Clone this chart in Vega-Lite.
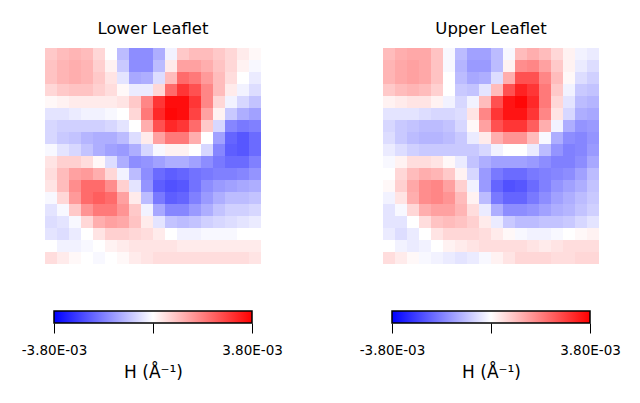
{
"$schema":"https://vega.github.io/schema/vega-lite/v6.json",
"padding":{"left":21,"top":20,"right":5,"bottom":5},
"background":"white",
"config":{"view":{"stroke":null},"font":"DejaVu Sans","title":{"font":"DejaVu Sans","fontSize":16.5,"fontWeight":"normal","color":"black","offset":11}},
"datasets":{
"bar":[{"lo":-38,"hi":38}],
"lower":[
{"x":0,"y":0,"v":8},{"x":1,"y":0,"v":10},{"x":2,"y":0,"v":11},{"x":3,"y":0,"v":10},{"x":4,"y":0,"v":6},{"x":5,"y":0,"v":0},{"x":6,"y":0,"v":-10},{"x":7,"y":0,"v":-17},{"x":8,"y":0,"v":-17},{"x":9,"y":0,"v":-12},{"x":10,"y":0,"v":-2},{"x":11,"y":0,"v":8},{"x":12,"y":0,"v":10},{"x":13,"y":0,"v":10},{"x":14,"y":0,"v":8},{"x":15,"y":0,"v":6},{"x":16,"y":0,"v":3},{"x":17,"y":0,"v":1},
{"x":0,"y":1,"v":9},{"x":1,"y":1,"v":11},{"x":2,"y":1,"v":12},{"x":3,"y":1,"v":11},{"x":4,"y":1,"v":7},{"x":5,"y":1,"v":2},{"x":6,"y":1,"v":-8},{"x":7,"y":1,"v":-17},{"x":8,"y":1,"v":-17},{"x":9,"y":1,"v":-10},{"x":10,"y":1,"v":3},{"x":11,"y":1,"v":14},{"x":12,"y":1,"v":14},{"x":13,"y":1,"v":12},{"x":14,"y":1,"v":9},{"x":15,"y":1,"v":6},{"x":16,"y":1,"v":2},{"x":17,"y":1,"v":-1},
{"x":0,"y":2,"v":9},{"x":1,"y":2,"v":11},{"x":2,"y":2,"v":12},{"x":3,"y":2,"v":11},{"x":4,"y":2,"v":8},{"x":5,"y":2,"v":4},{"x":6,"y":2,"v":-4},{"x":7,"y":2,"v":-13},{"x":8,"y":2,"v":-12},{"x":9,"y":2,"v":-5},{"x":10,"y":2,"v":10},{"x":11,"y":2,"v":22},{"x":12,"y":2,"v":20},{"x":13,"y":2,"v":15},{"x":14,"y":2,"v":10},{"x":15,"y":2,"v":5},{"x":16,"y":2,"v":0},{"x":17,"y":2,"v":-3},
{"x":0,"y":3,"v":6},{"x":1,"y":3,"v":8},{"x":2,"y":3,"v":9},{"x":3,"y":3,"v":9},{"x":4,"y":3,"v":7},{"x":5,"y":3,"v":5},{"x":6,"y":3,"v":1},{"x":7,"y":3,"v":-3},{"x":8,"y":3,"v":-3},{"x":9,"y":3,"v":6},{"x":10,"y":3,"v":22},{"x":11,"y":3,"v":30},{"x":12,"y":3,"v":26},{"x":13,"y":3,"v":18},{"x":14,"y":3,"v":10},{"x":15,"y":3,"v":3},{"x":16,"y":3,"v":-2},{"x":17,"y":3,"v":-5},
{"x":0,"y":4,"v":1},{"x":1,"y":4,"v":2},{"x":2,"y":4,"v":3},{"x":3,"y":4,"v":3},{"x":4,"y":4,"v":3},{"x":5,"y":4,"v":3},{"x":6,"y":4,"v":4},{"x":7,"y":4,"v":8},{"x":8,"y":4,"v":18},{"x":9,"y":4,"v":30},{"x":10,"y":4,"v":36},{"x":11,"y":4,"v":36},{"x":12,"y":4,"v":30},{"x":13,"y":4,"v":18},{"x":14,"y":4,"v":6},{"x":15,"y":4,"v":-2},{"x":16,"y":4,"v":-6},{"x":17,"y":4,"v":-9},
{"x":0,"y":5,"v":-4},{"x":1,"y":5,"v":-4},{"x":2,"y":5,"v":-3},{"x":3,"y":5,"v":-2},{"x":4,"y":5,"v":-2},{"x":5,"y":5,"v":-1},{"x":6,"y":5,"v":0},{"x":7,"y":5,"v":6},{"x":8,"y":5,"v":20},{"x":9,"y":5,"v":32},{"x":10,"y":5,"v":37},{"x":11,"y":5,"v":36},{"x":12,"y":5,"v":28},{"x":13,"y":5,"v":14},{"x":14,"y":5,"v":2},{"x":15,"y":5,"v":-8},{"x":16,"y":5,"v":-12},{"x":17,"y":5,"v":-14},
{"x":0,"y":6,"v":-6},{"x":1,"y":6,"v":-7},{"x":2,"y":6,"v":-7},{"x":3,"y":6,"v":-7},{"x":4,"y":6,"v":-7},{"x":5,"y":6,"v":-6},{"x":6,"y":6,"v":-4},{"x":7,"y":6,"v":0},{"x":8,"y":6,"v":12},{"x":9,"y":6,"v":26},{"x":10,"y":6,"v":32},{"x":11,"y":6,"v":30},{"x":12,"y":6,"v":22},{"x":13,"y":6,"v":8},{"x":14,"y":6,"v":-6},{"x":15,"y":6,"v":-18},{"x":16,"y":6,"v":-20},{"x":17,"y":6,"v":-19},
{"x":0,"y":7,"v":-6},{"x":1,"y":7,"v":-8},{"x":2,"y":7,"v":-9},{"x":3,"y":7,"v":-11},{"x":4,"y":7,"v":-12},{"x":5,"y":7,"v":-12},{"x":6,"y":7,"v":-10},{"x":7,"y":7,"v":-5},{"x":8,"y":7,"v":3},{"x":9,"y":7,"v":14},{"x":10,"y":7,"v":20},{"x":11,"y":7,"v":20},{"x":12,"y":7,"v":12},{"x":13,"y":7,"v":0},{"x":14,"y":7,"v":-14},{"x":15,"y":7,"v":-23},{"x":16,"y":7,"v":-25},{"x":17,"y":7,"v":-22},
{"x":0,"y":8,"v":-1},{"x":1,"y":8,"v":-4},{"x":2,"y":8,"v":-6},{"x":3,"y":8,"v":-9},{"x":4,"y":8,"v":-12},{"x":5,"y":8,"v":-14},{"x":6,"y":8,"v":-15},{"x":7,"y":8,"v":-12},{"x":8,"y":8,"v":-6},{"x":9,"y":8,"v":-1},{"x":10,"y":8,"v":2},{"x":11,"y":8,"v":2},{"x":12,"y":8,"v":0},{"x":13,"y":8,"v":-6},{"x":14,"y":8,"v":-18},{"x":15,"y":8,"v":-24},{"x":16,"y":8,"v":-25},{"x":17,"y":8,"v":-22},
{"x":0,"y":9,"v":4},{"x":1,"y":9,"v":7},{"x":2,"y":9,"v":7},{"x":3,"y":9,"v":5},{"x":4,"y":9,"v":1},{"x":5,"y":9,"v":-5},{"x":6,"y":9,"v":-12},{"x":7,"y":9,"v":-17},{"x":8,"y":9,"v":-16},{"x":9,"y":9,"v":-14},{"x":10,"y":9,"v":-12},{"x":11,"y":9,"v":-12},{"x":12,"y":9,"v":-14},{"x":13,"y":9,"v":-17},{"x":14,"y":9,"v":-20},{"x":15,"y":9,"v":-22},{"x":16,"y":9,"v":-22},{"x":17,"y":9,"v":-19},
{"x":0,"y":10,"v":5},{"x":1,"y":10,"v":10},{"x":2,"y":10,"v":14},{"x":3,"y":10,"v":15},{"x":4,"y":10,"v":12},{"x":5,"y":10,"v":6},{"x":6,"y":10,"v":-2},{"x":7,"y":10,"v":-10},{"x":8,"y":10,"v":-17},{"x":9,"y":10,"v":-22},{"x":10,"y":10,"v":-24},{"x":11,"y":10,"v":-23},{"x":12,"y":10,"v":-21},{"x":13,"y":10,"v":-20},{"x":14,"y":10,"v":-19},{"x":15,"y":10,"v":-19},{"x":16,"y":10,"v":-18},{"x":17,"y":10,"v":-16},
{"x":0,"y":11,"v":4},{"x":1,"y":11,"v":10},{"x":2,"y":11,"v":17},{"x":3,"y":11,"v":22},{"x":4,"y":11,"v":22},{"x":5,"y":11,"v":17},{"x":6,"y":11,"v":7},{"x":7,"y":11,"v":-4},{"x":8,"y":11,"v":-16},{"x":9,"y":11,"v":-24},{"x":10,"y":11,"v":-26},{"x":11,"y":11,"v":-25},{"x":12,"y":11,"v":-21},{"x":13,"y":11,"v":-17},{"x":14,"y":11,"v":-15},{"x":15,"y":11,"v":-14},{"x":16,"y":11,"v":-13},{"x":17,"y":11,"v":-12},
{"x":0,"y":12,"v":-1},{"x":1,"y":12,"v":6},{"x":2,"y":12,"v":15},{"x":3,"y":12,"v":22},{"x":4,"y":12,"v":24},{"x":5,"y":12,"v":22},{"x":6,"y":12,"v":14},{"x":7,"y":12,"v":3},{"x":8,"y":12,"v":-10},{"x":9,"y":12,"v":-20},{"x":10,"y":12,"v":-24},{"x":11,"y":12,"v":-23},{"x":12,"y":12,"v":-19},{"x":13,"y":12,"v":-15},{"x":14,"y":12,"v":-12},{"x":15,"y":12,"v":-10},{"x":16,"y":12,"v":-10},{"x":17,"y":12,"v":-9},
{"x":0,"y":13,"v":-4},{"x":1,"y":13,"v":-1},{"x":2,"y":13,"v":8},{"x":3,"y":13,"v":16},{"x":4,"y":13,"v":20},{"x":5,"y":13,"v":20},{"x":6,"y":13,"v":16},{"x":7,"y":13,"v":8},{"x":8,"y":13,"v":-2},{"x":9,"y":13,"v":-13},{"x":10,"y":13,"v":-18},{"x":11,"y":13,"v":-18},{"x":12,"y":13,"v":-15},{"x":13,"y":13,"v":-12},{"x":14,"y":13,"v":-9},{"x":15,"y":13,"v":-7},{"x":16,"y":13,"v":-7},{"x":17,"y":13,"v":-6},
{"x":0,"y":14,"v":-5},{"x":1,"y":14,"v":-4},{"x":2,"y":14,"v":-1},{"x":3,"y":14,"v":6},{"x":4,"y":14,"v":12},{"x":5,"y":14,"v":14},{"x":6,"y":14,"v":13},{"x":7,"y":14,"v":9},{"x":8,"y":14,"v":3},{"x":9,"y":14,"v":-4},{"x":10,"y":14,"v":-9},{"x":11,"y":14,"v":-10},{"x":12,"y":14,"v":-9},{"x":13,"y":14,"v":-7},{"x":14,"y":14,"v":-6},{"x":15,"y":14,"v":-5},{"x":16,"y":14,"v":-4},{"x":17,"y":14,"v":-3},
{"x":0,"y":15,"v":-4},{"x":1,"y":15,"v":-5},{"x":2,"y":15,"v":-3},{"x":3,"y":15,"v":0},{"x":4,"y":15,"v":4},{"x":5,"y":15,"v":7},{"x":6,"y":15,"v":7},{"x":7,"y":15,"v":6},{"x":8,"y":15,"v":5},{"x":9,"y":15,"v":3},{"x":10,"y":15,"v":0},{"x":11,"y":15,"v":-2},{"x":12,"y":15,"v":-2},{"x":13,"y":15,"v":-1},{"x":14,"y":15,"v":-1},{"x":15,"y":15,"v":-1},{"x":16,"y":15,"v":0},{"x":17,"y":15,"v":0},
{"x":0,"y":16,"v":0},{"x":1,"y":16,"v":-2},{"x":2,"y":16,"v":-2},{"x":3,"y":16,"v":-1},{"x":4,"y":16,"v":0},{"x":5,"y":16,"v":2},{"x":6,"y":16,"v":3},{"x":7,"y":16,"v":4},{"x":8,"y":16,"v":4},{"x":9,"y":16,"v":4},{"x":10,"y":16,"v":4},{"x":11,"y":16,"v":3},{"x":12,"y":16,"v":3},{"x":13,"y":16,"v":3},{"x":14,"y":16,"v":3},{"x":15,"y":16,"v":3},{"x":16,"y":16,"v":3},{"x":17,"y":16,"v":3},
{"x":0,"y":17,"v":5},{"x":1,"y":17,"v":3},{"x":2,"y":17,"v":1},{"x":3,"y":17,"v":0},{"x":4,"y":17,"v":-1},{"x":5,"y":17,"v":0},{"x":6,"y":17,"v":1},{"x":7,"y":17,"v":3},{"x":8,"y":17,"v":4},{"x":9,"y":17,"v":5},{"x":10,"y":17,"v":5},{"x":11,"y":17,"v":5},{"x":12,"y":17,"v":5},{"x":13,"y":17,"v":5},{"x":14,"y":17,"v":5},{"x":15,"y":17,"v":5},{"x":16,"y":17,"v":5},{"x":17,"y":17,"v":4}
],
"upper":[
{"x":0,"y":0,"v":10},{"x":1,"y":0,"v":12},{"x":2,"y":0,"v":13},{"x":3,"y":0,"v":13},{"x":4,"y":0,"v":9},{"x":5,"y":0,"v":-1},{"x":6,"y":0,"v":-10},{"x":7,"y":0,"v":-14},{"x":8,"y":0,"v":-14},{"x":9,"y":0,"v":-10},{"x":10,"y":0,"v":-1},{"x":11,"y":0,"v":10},{"x":12,"y":0,"v":12},{"x":13,"y":0,"v":10},{"x":14,"y":0,"v":6},{"x":15,"y":0,"v":2},{"x":16,"y":0,"v":-2},{"x":17,"y":0,"v":-3},
{"x":0,"y":1,"v":11},{"x":1,"y":1,"v":13},{"x":2,"y":1,"v":14},{"x":3,"y":1,"v":13},{"x":4,"y":1,"v":9},{"x":5,"y":1,"v":-1},{"x":6,"y":1,"v":-11},{"x":7,"y":1,"v":-15},{"x":8,"y":1,"v":-15},{"x":9,"y":1,"v":-10},{"x":10,"y":1,"v":2},{"x":11,"y":1,"v":17},{"x":12,"y":1,"v":18},{"x":13,"y":1,"v":14},{"x":14,"y":1,"v":8},{"x":15,"y":1,"v":2},{"x":16,"y":1,"v":-3},{"x":17,"y":1,"v":-5},
{"x":0,"y":2,"v":11},{"x":1,"y":2,"v":13},{"x":2,"y":2,"v":14},{"x":3,"y":2,"v":13},{"x":4,"y":2,"v":9},{"x":5,"y":2,"v":0},{"x":6,"y":2,"v":-10},{"x":7,"y":2,"v":-13},{"x":8,"y":2,"v":-12},{"x":9,"y":2,"v":-5},{"x":10,"y":2,"v":12},{"x":11,"y":2,"v":26},{"x":12,"y":2,"v":26},{"x":13,"y":2,"v":18},{"x":14,"y":2,"v":10},{"x":15,"y":2,"v":1},{"x":16,"y":2,"v":-5},{"x":17,"y":2,"v":-7},
{"x":0,"y":3,"v":8},{"x":1,"y":3,"v":10},{"x":2,"y":3,"v":11},{"x":3,"y":3,"v":10},{"x":4,"y":3,"v":7},{"x":5,"y":3,"v":0},{"x":6,"y":3,"v":-8},{"x":7,"y":3,"v":-9},{"x":8,"y":3,"v":-4},{"x":9,"y":3,"v":10},{"x":10,"y":3,"v":26},{"x":11,"y":3,"v":33},{"x":12,"y":3,"v":30},{"x":13,"y":3,"v":20},{"x":14,"y":3,"v":8},{"x":15,"y":3,"v":-2},{"x":16,"y":3,"v":-8},{"x":17,"y":3,"v":-9},
{"x":0,"y":4,"v":2},{"x":1,"y":4,"v":3},{"x":2,"y":4,"v":4},{"x":3,"y":4,"v":4},{"x":4,"y":4,"v":2},{"x":5,"y":4,"v":-2},{"x":6,"y":4,"v":-6},{"x":7,"y":4,"v":-2},{"x":8,"y":4,"v":10},{"x":9,"y":4,"v":26},{"x":10,"y":4,"v":35},{"x":11,"y":4,"v":37},{"x":12,"y":4,"v":32},{"x":13,"y":4,"v":20},{"x":14,"y":4,"v":6},{"x":15,"y":4,"v":-4},{"x":16,"y":4,"v":-10},{"x":17,"y":4,"v":-11},
{"x":0,"y":5,"v":-4},{"x":1,"y":5,"v":-4},{"x":2,"y":5,"v":-4},{"x":3,"y":5,"v":-5},{"x":4,"y":5,"v":-6},{"x":5,"y":5,"v":-6},{"x":6,"y":5,"v":-5},{"x":7,"y":5,"v":4},{"x":8,"y":5,"v":18},{"x":9,"y":5,"v":30},{"x":10,"y":5,"v":35},{"x":11,"y":5,"v":35},{"x":12,"y":5,"v":30},{"x":13,"y":5,"v":18},{"x":14,"y":5,"v":4},{"x":15,"y":5,"v":-6},{"x":16,"y":5,"v":-12},{"x":17,"y":5,"v":-13},
{"x":0,"y":6,"v":-6},{"x":1,"y":6,"v":-8},{"x":2,"y":6,"v":-9},{"x":3,"y":6,"v":-10},{"x":4,"y":6,"v":-10},{"x":5,"y":6,"v":-9},{"x":6,"y":6,"v":-6},{"x":7,"y":6,"v":1},{"x":8,"y":6,"v":14},{"x":9,"y":6,"v":26},{"x":10,"y":6,"v":30},{"x":11,"y":6,"v":30},{"x":12,"y":6,"v":24},{"x":13,"y":6,"v":12},{"x":14,"y":6,"v":-2},{"x":15,"y":6,"v":-12},{"x":16,"y":6,"v":-16},{"x":17,"y":6,"v":-15},
{"x":0,"y":7,"v":-5},{"x":1,"y":7,"v":-8},{"x":2,"y":7,"v":-10},{"x":3,"y":7,"v":-11},{"x":4,"y":7,"v":-11},{"x":5,"y":7,"v":-10},{"x":6,"y":7,"v":-8},{"x":7,"y":7,"v":-3},{"x":8,"y":7,"v":3},{"x":9,"y":7,"v":12},{"x":10,"y":7,"v":16},{"x":11,"y":7,"v":16},{"x":12,"y":7,"v":10},{"x":13,"y":7,"v":-1},{"x":14,"y":7,"v":-12},{"x":15,"y":7,"v":-17},{"x":16,"y":7,"v":-18},{"x":17,"y":7,"v":-16},
{"x":0,"y":8,"v":-3},{"x":1,"y":8,"v":-5},{"x":2,"y":8,"v":-7},{"x":3,"y":8,"v":-8},{"x":4,"y":8,"v":-8},{"x":5,"y":8,"v":-8},{"x":6,"y":8,"v":-8},{"x":7,"y":8,"v":-8},{"x":8,"y":8,"v":-6},{"x":9,"y":8,"v":-2},{"x":10,"y":8,"v":0},{"x":11,"y":8,"v":0},{"x":12,"y":8,"v":-3},{"x":13,"y":8,"v":-10},{"x":14,"y":8,"v":-16},{"x":15,"y":8,"v":-19},{"x":16,"y":8,"v":-18},{"x":17,"y":8,"v":-15},
{"x":0,"y":9,"v":-1},{"x":1,"y":9,"v":2},{"x":2,"y":9,"v":5},{"x":3,"y":9,"v":5},{"x":4,"y":9,"v":4},{"x":5,"y":9,"v":1},{"x":6,"y":9,"v":-3},{"x":7,"y":9,"v":-9},{"x":8,"y":9,"v":-12},{"x":9,"y":9,"v":-14},{"x":10,"y":9,"v":-14},{"x":11,"y":9,"v":-14},{"x":12,"y":9,"v":-15},{"x":13,"y":9,"v":-17},{"x":14,"y":9,"v":-19},{"x":15,"y":9,"v":-19},{"x":16,"y":9,"v":-17},{"x":17,"y":9,"v":-13},
{"x":0,"y":10,"v":0},{"x":1,"y":10,"v":6},{"x":2,"y":10,"v":10},{"x":3,"y":10,"v":12},{"x":4,"y":10,"v":11},{"x":5,"y":10,"v":8},{"x":6,"y":10,"v":2},{"x":7,"y":10,"v":-6},{"x":8,"y":10,"v":-15},{"x":9,"y":10,"v":-20},{"x":10,"y":10,"v":-22},{"x":11,"y":10,"v":-22},{"x":12,"y":10,"v":-20},{"x":13,"y":10,"v":-19},{"x":14,"y":10,"v":-18},{"x":15,"y":10,"v":-17},{"x":16,"y":10,"v":-14},{"x":17,"y":10,"v":-10},
{"x":0,"y":11,"v":1},{"x":1,"y":11,"v":7},{"x":2,"y":11,"v":13},{"x":3,"y":11,"v":17},{"x":4,"y":11,"v":18},{"x":5,"y":11,"v":14},{"x":6,"y":11,"v":7},{"x":7,"y":11,"v":-2},{"x":8,"y":11,"v":-15},{"x":9,"y":11,"v":-23},{"x":10,"y":11,"v":-26},{"x":11,"y":11,"v":-25},{"x":12,"y":11,"v":-22},{"x":13,"y":11,"v":-19},{"x":14,"y":11,"v":-16},{"x":15,"y":11,"v":-14},{"x":16,"y":11,"v":-12},{"x":17,"y":11,"v":-9},
{"x":0,"y":12,"v":-2},{"x":1,"y":12,"v":4},{"x":2,"y":12,"v":12},{"x":3,"y":12,"v":17},{"x":4,"y":12,"v":18},{"x":5,"y":12,"v":16},{"x":6,"y":12,"v":10},{"x":7,"y":12,"v":2},{"x":8,"y":12,"v":-10},{"x":9,"y":12,"v":-20},{"x":10,"y":12,"v":-23},{"x":11,"y":12,"v":-23},{"x":12,"y":12,"v":-20},{"x":13,"y":12,"v":-17},{"x":14,"y":12,"v":-14},{"x":15,"y":12,"v":-12},{"x":16,"y":12,"v":-10},{"x":17,"y":12,"v":-8},
{"x":0,"y":13,"v":-4},{"x":1,"y":13,"v":-1},{"x":2,"y":13,"v":6},{"x":3,"y":13,"v":12},{"x":4,"y":13,"v":14},{"x":5,"y":13,"v":14},{"x":6,"y":13,"v":11},{"x":7,"y":13,"v":5},{"x":8,"y":13,"v":-3},{"x":9,"y":13,"v":-12},{"x":10,"y":13,"v":-17},{"x":11,"y":13,"v":-17},{"x":12,"y":13,"v":-16},{"x":13,"y":13,"v":-14},{"x":14,"y":13,"v":-12},{"x":15,"y":13,"v":-11},{"x":16,"y":13,"v":-9},{"x":17,"y":13,"v":-7},
{"x":0,"y":14,"v":-4},{"x":1,"y":14,"v":-4},{"x":2,"y":14,"v":0},{"x":3,"y":14,"v":5},{"x":4,"y":14,"v":9},{"x":5,"y":14,"v":10},{"x":6,"y":14,"v":9},{"x":7,"y":14,"v":7},{"x":8,"y":14,"v":3},{"x":9,"y":14,"v":-3},{"x":10,"y":14,"v":-8},{"x":11,"y":14,"v":-10},{"x":12,"y":14,"v":-10},{"x":13,"y":14,"v":-9},{"x":14,"y":14,"v":-9},{"x":15,"y":14,"v":-8},{"x":16,"y":14,"v":-6},{"x":17,"y":14,"v":-4},
{"x":0,"y":15,"v":-3},{"x":1,"y":15,"v":-5},{"x":2,"y":15,"v":-3},{"x":3,"y":15,"v":0},{"x":4,"y":15,"v":4},{"x":5,"y":15,"v":6},{"x":6,"y":15,"v":6},{"x":7,"y":15,"v":6},{"x":8,"y":15,"v":5},{"x":9,"y":15,"v":3},{"x":10,"y":15,"v":1},{"x":11,"y":15,"v":-1},{"x":12,"y":15,"v":-2},{"x":13,"y":15,"v":-2},{"x":14,"y":15,"v":-1},{"x":15,"y":15,"v":0},{"x":16,"y":15,"v":1},{"x":17,"y":15,"v":2},
{"x":0,"y":16,"v":0},{"x":1,"y":16,"v":-2},{"x":2,"y":16,"v":-3},{"x":3,"y":16,"v":-2},{"x":4,"y":16,"v":0},{"x":5,"y":16,"v":2},{"x":6,"y":16,"v":3},{"x":7,"y":16,"v":4},{"x":8,"y":16,"v":5},{"x":9,"y":16,"v":5},{"x":10,"y":16,"v":5},{"x":11,"y":16,"v":5},{"x":12,"y":16,"v":4},{"x":13,"y":16,"v":3},{"x":14,"y":16,"v":4},{"x":15,"y":16,"v":5},{"x":16,"y":16,"v":5},{"x":17,"y":16,"v":5},
{"x":0,"y":17,"v":5},{"x":1,"y":17,"v":3},{"x":2,"y":17,"v":1},{"x":3,"y":17,"v":-1},{"x":4,"y":17,"v":-2},{"x":5,"y":17,"v":-3},{"x":6,"y":17,"v":-4},{"x":7,"y":17,"v":-3},{"x":8,"y":17,"v":-1},{"x":9,"y":17,"v":2},{"x":10,"y":17,"v":4},{"x":11,"y":17,"v":6},{"x":12,"y":17,"v":6},{"x":13,"y":17,"v":6},{"x":14,"y":17,"v":5},{"x":15,"y":17,"v":5},{"x":16,"y":17,"v":6},{"x":17,"y":17,"v":6}
]},
"spacing":76,
"hconcat":[
{"vconcat":[
{"data":{"name":"lower"},"title":"Lower Leaflet","width":216,"height":216,
"mark":{"type":"rect"},
"encoding":{
"x":{"field":"x","type":"ordinal","axis":null,"scale":{"paddingInner":0,"paddingOuter":0}},
"y":{"field":"y","type":"ordinal","axis":null,"scale":{"paddingInner":0,"paddingOuter":0}},
"color":{"field":"v","type":"quantitative","legend":null,"scale":{"domain":[-38,0,38],"range":["#0000ff","#ffffff","#ff0000"],"interpolate":"rgb"}}}},
{"data":{"name":"bar"},"width":198,"height":12,
"mark":{"type":"rect","fill":{"gradient":"linear","x1":0,"x2":1,"y1":0,"y2":0,"stops":[{"offset":0,"color":"#0000ff"},{"offset":0.5,"color":"#ffffff"},{"offset":1,"color":"#ff0000"}]},"stroke":"black","strokeWidth":1.5},
"encoding":{
"x":{"field":"lo","type":"quantitative","scale":{"domain":[-38,38],"nice":false,"zero":false},
"axis":{"values":[-38,0,38],"tickSize":10,"tickColor":"black","tickWidth":1,"domain":false,"grid":false,"labelFontSize":13.5,"labelColor":"black","labelPadding":10,"labelOverlap":false,"labelBound":false,"labelFlush":false,
"labelExpr":"datum.value == 0 ? '' : replace(replace(upper(format(datum.value/10000, '.2e')), '\u2212', '-'), 'E-3', 'E-03')",
"title":"H (Å⁻¹)","titleFontSize":17,"titleFontWeight":"normal","titleColor":"black","titlePadding":8}},
"x2":{"field":"hi"}}}
],"spacing":47,"center":true,"bounds":"flush","resolve":{"scale":{"x":"independent","y":"independent","color":"independent"},"axis":{"x":"independent","y":"independent"}}},
{"vconcat":[
{"data":{"name":"upper"},"title":"Upper Leaflet","width":216,"height":216,
"mark":{"type":"rect"},
"encoding":{
"x":{"field":"x","type":"ordinal","axis":null,"scale":{"paddingInner":0,"paddingOuter":0}},
"y":{"field":"y","type":"ordinal","axis":null,"scale":{"paddingInner":0,"paddingOuter":0}},
"color":{"field":"v","type":"quantitative","legend":null,"scale":{"domain":[-38,0,38],"range":["#0000ff","#ffffff","#ff0000"],"interpolate":"rgb"}}}},
{"data":{"name":"bar"},"width":198,"height":12,
"mark":{"type":"rect","fill":{"gradient":"linear","x1":0,"x2":1,"y1":0,"y2":0,"stops":[{"offset":0,"color":"#0000ff"},{"offset":0.5,"color":"#ffffff"},{"offset":1,"color":"#ff0000"}]},"stroke":"black","strokeWidth":1.5},
"encoding":{
"x":{"field":"lo","type":"quantitative","scale":{"domain":[-38,38],"nice":false,"zero":false},
"axis":{"values":[-38,0,38],"tickSize":10,"tickColor":"black","tickWidth":1,"domain":false,"grid":false,"labelFontSize":13.5,"labelColor":"black","labelPadding":10,"labelOverlap":false,"labelBound":false,"labelFlush":false,
"labelExpr":"datum.value == 0 ? '' : replace(replace(upper(format(datum.value/10000, '.2e')), '\u2212', '-'), 'E-3', 'E-03')",
"title":"H (Å⁻¹)","titleFontSize":17,"titleFontWeight":"normal","titleColor":"black","titlePadding":8}},
"x2":{"field":"hi"}}}
],"spacing":47,"center":true,"bounds":"flush","resolve":{"scale":{"x":"independent","y":"independent","color":"independent"},"axis":{"x":"independent","y":"independent"}}}
],
"resolve":{"scale":{"x":"independent","y":"independent","color":"independent"},"axis":{"x":"independent","y":"independent"}}
}
